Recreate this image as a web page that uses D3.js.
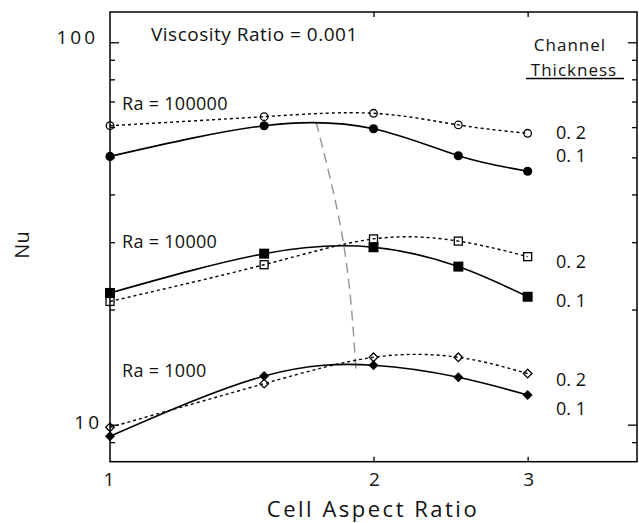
<!DOCTYPE html>
<html>
<head>
<meta charset="utf-8">
<script src="https://cdn.jsdelivr.net/npm/d3@7/dist/d3.min.js"></script>
<style>
  html, body { margin: 0; padding: 0; background: #fff; }
  svg { display: block; }
  text { font-family: "Open Sans", "Noto Sans", sans-serif; fill: #111; }
</style>
</head>
<body>
<svg id="chart" width="639" height="523"></svg>
<script>
// Cell aspect ratio (x) and Nusselt number (y) for three Rayleigh numbers
const aspect = [1, 1.5, 2, 2.5, 3];

// Channel thickness 0.2 (open markers, dotted) and 0.1 (filled markers, solid)
const nuRa100000Thick02 = [60.5, 63.9, 65.2, 60.8, 57.8];
const nuRa100000Thick01 = [50.3, 60.5, 59.4, 50.5, 46.0];
const nuRa10000Thick02  = [21.0, 26.2, 30.6, 30.2, 27.5];
const nuRa10000Thick01  = [22.1, 28.0, 29.1, 25.9, 21.6];
const nuRa1000Thick02   = [9.84, 12.8, 15.0, 15.0, 13.6];
const nuRa1000Thick01   = [9.32, 13.4, 14.3, 13.3, 11.96];

// Locus of the Nu maxima across Rayleigh numbers
const peakAspect = [1.72, 1.85, 1.91];
const peakNu     = [61.8, 29.4, 13.9];

const xTickValues = [1, 2, 3];
const yMajorTicks = [10, 100];
const yMinorTicks = [9, 20, 30, 40, 50, 60, 70, 80, 90];
const raLabels = ["Ra = 100000", "Ra = 10000", "Ra = 1000"];
const thicknessLabels = ["0. 2", "0. 1"];

const svg = d3.select("#chart");
const plotLeft = 110, plotRight = 637, plotTop = 12, plotBottom = 461.7;

const x = d3.scaleLog().domain([1, 4]).range([plotLeft, plotRight]);
const y = d3.scaleLog().domain([8, 120]).range([plotBottom, plotTop]);

// Frame
svg.append("rect")
  .attr("x", plotLeft).attr("y", plotTop)
  .attr("width", plotRight - plotLeft).attr("height", plotBottom - plotTop)
  .attr("fill", "none").attr("stroke", "#000").attr("stroke-width", 1.5);

// Y ticks on both sides, pointing inward
function yTicks(values, size) {
  svg.append("g").attr("transform", `translate(${plotLeft},0)`)
    .call(d3.axisLeft(y).tickValues(values).tickSize(-size).tickFormat(""))
    .call(g => g.select(".domain").remove())
    .selectAll("line").attr("stroke", "#000").attr("stroke-width", 1.3);
  svg.append("g").attr("transform", `translate(${plotRight},0)`)
    .call(d3.axisRight(y).tickValues(values).tickSize(-size).tickFormat(""))
    .call(g => g.select(".domain").remove())
    .selectAll("line").attr("stroke", "#000").attr("stroke-width", 1.3);
}
yTicks(yMajorTicks, 9);
yTicks(yMinorTicks, 5);

// X ticks at top and bottom, pointing inward
const xInner = xTickValues.filter(v => v !== 1);
svg.append("g").attr("transform", `translate(0,${plotBottom})`)
  .call(d3.axisBottom(x).tickValues(xInner).tickSize(-5).tickFormat(""))
  .call(g => g.select(".domain").remove())
  .selectAll("line").attr("stroke", "#000").attr("stroke-width", 1.3);
svg.append("g").attr("transform", `translate(0,${plotTop})`)
  .call(d3.axisTop(x).tickValues(xInner).tickSize(-5).tickFormat(""))
  .call(g => g.select(".domain").remove())
  .selectAll("line").attr("stroke", "#000").attr("stroke-width", 1.3);

// Tick labels
svg.selectAll(".xlab").data(xTickValues).enter().append("text")
  .attr("x", d => x(d) - (d === 1 ? 2 : 0) + 1).attr("y", 485.5)
  .attr("text-anchor", "middle").attr("font-size", 19)
  .text(d => d);
svg.selectAll(".ylab").data(yMajorTicks).enter().append("text")
  .attr("x", d => d === 100 ? 98 : 102).attr("y", d => d === 100 ? y(d) + 1.5 : y(d) + 4.5)
  .attr("text-anchor", "end").attr("font-size", 19)
  .attr("letter-spacing", 3)
  .text(d => d);

// Axis titles
svg.append("text").attr("x", 373).attr("y", 516.5)
  .attr("text-anchor", "middle").attr("font-size", 22)
  .attr("letter-spacing", 2.5)
  .text("Cell Aspect Ratio");
svg.append("text").attr("transform", "translate(29,245) rotate(-90)")
  .attr("text-anchor", "middle").attr("font-size", 20)
  .text("Nu");

// Maxima locus
const peakLine = d3.line().x(d => x(d[0])).y(d => y(d[1])).curve(d3.curveNatural);
svg.append("path")
  .attr("d", peakLine(d3.zip(peakAspect, peakNu)))
  .attr("fill", "none").attr("stroke", "#999").attr("stroke-width", 1.5)
  .attr("stroke-dasharray", "10,6");

// Series
const series = [
  { values: nuRa100000Thick02, open: true,  shape: "circle" },
  { values: nuRa100000Thick01, open: false, shape: "circle" },
  { values: nuRa10000Thick02,  open: true,  shape: "square" },
  { values: nuRa10000Thick01,  open: false, shape: "square" },
  { values: nuRa1000Thick02,   open: true,  shape: "diamond" },
  { values: nuRa1000Thick01,   open: false, shape: "diamond" }
];

const line = d3.line().x(d => x(d[0])).y(d => y(d[1])).curve(d3.curveNatural);

series.forEach(s => {
  const pts = d3.zip(aspect, s.values);
  svg.append("path")
    .attr("d", line(pts))
    .attr("fill", "none").attr("stroke", "#000")
    .attr("stroke-width", s.open ? 1.4 : 1.6)
    .attr("stroke-dasharray", s.open ? "3,3" : null);

  const g = svg.append("g");
  pts.forEach(([a, v]) => {
    const cx = x(a), cy = y(v);
    let m;
    if (s.shape === "circle") {
      m = g.append("circle").attr("cx", cx).attr("cy", cy).attr("r", s.open ? 3.8 : 4.6);
    } else if (s.shape === "square") {
      const h = s.open ? 4 : 5;
      m = g.append("rect").attr("x", cx - h).attr("y", cy - h).attr("width", 2 * h).attr("height", 2 * h);
    } else {
      const h = s.open ? 4.3 : 5;
      m = g.append("path").attr("d", `M${cx},${cy - h}L${cx + h},${cy}L${cx},${cy + h}L${cx - h},${cy}Z`);
    }
    if (s.open) {
      m.attr("fill", "none").attr("stroke", "#000").attr("stroke-width", 1.3);
    } else {
      m.attr("fill", "#000");
    }
  });
});

// Annotations
svg.append("text").attr("x", 151).attr("y", 41)
  .attr("font-size", 19).attr("letter-spacing", 0.5)
  .text("Viscosity Ratio = 0.001");

const raY = [110, 248, 377];
raLabels.forEach((t, i) => {
  svg.append("text").attr("x", 122).attr("y", raY[i])
    .attr("font-size", 18).attr("letter-spacing", 0.3).text(t);
});

svg.append("text").attr("x", 570).attr("y", 50.5)
  .attr("text-anchor", "middle").attr("font-size", 17)
  .attr("letter-spacing", 1).text("Channel");
svg.append("text").attr("x", 574).attr("y", 75.5)
  .attr("text-anchor", "middle").attr("font-size", 17)
  .attr("letter-spacing", 1).text("Thickness");
svg.append("line").attr("x1", 526).attr("x2", 624).attr("y1", 78.5).attr("y2", 78.5)
  .attr("stroke", "#000").attr("stroke-width", 1.3);

const thickY = [[139.3, 162], [268, 306.7], [386, 415]];
thickY.forEach(pair => {
  pair.forEach((yy, j) => {
    svg.append("text").attr("x", 556).attr("y", yy)
      .attr("font-size", 18).text(thicknessLabels[j]);
  });
});
</script>
</body>
</html>
